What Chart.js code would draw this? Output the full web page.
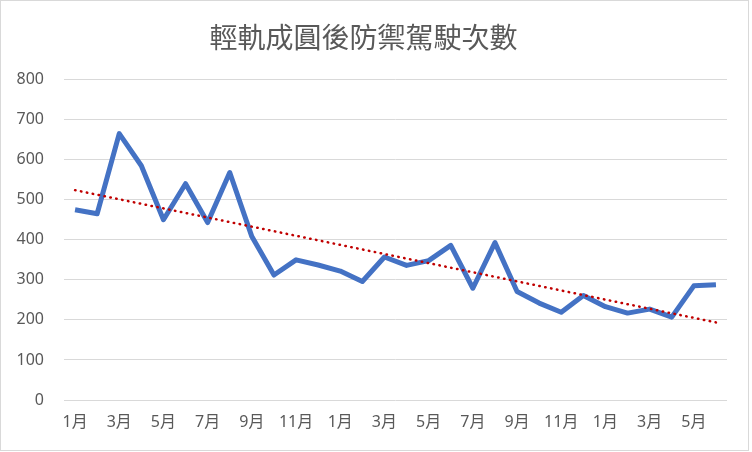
<!DOCTYPE html>
<html>
<head>
<meta charset="utf-8">
<script src="https://cdn.jsdelivr.net/npm/chart.js@4"></script>
<style>
  body { margin: 0; background: #fff; }
  #wrap { width: 752px; height: 452px; }
</style>
</head>
<body>
<div id="wrap"><canvas id="chart" width="752" height="452"></canvas></div>
<script>
// Chart data
const title = '輕軌成圓後防禦駕駛次數';
const months = [
    '1月', '2月', '3月', '4月', '5月', '6月', '7月', '8月', '9月', '10月', '11月', '12月',
    '1月', '2月', '3月', '4月', '5月', '6月', '7月', '8月', '9月', '10月', '11月', '12月',
    '1月', '2月', '3月', '4月', '5月', '6月'
];
const counts = [
    475, 465, 665, 585, 450, 540, 443, 568, 408, 312, 350, 337,
    322, 296, 357, 336, 348, 386, 279, 393, 271, 242, 219, 261,
    233, 217, 227, 207, 285, 288
];
const yTicks = [0, 100, 200, 300, 400, 500, 600, 700, 800];

// Linear trendline (least squares), like the spreadsheet one
const n = counts.length;
let sx = 0, sy = 0, sxy = 0, sxx = 0;
counts.forEach((v, i) => { sx += i; sy += v; sxy += i * v; sxx += i * i; });
const slope = (n * sxy - sx * sy) / (n * sxx - sx * sx);
const intercept = (sy - slope * sx) / n;
const trend = counts.map((v, i) => intercept + slope * i);

const grey = '#595959';
const font = "'Noto Sans', 'Noto Sans CJK TC', sans-serif";

const frame = {
    id: 'frame',
    afterDraw(chart) {
        const c = chart.ctx;
        c.save();
        c.strokeStyle = '#d9d9d9';
        c.lineWidth = 1;
        c.strokeRect(0.5, 0.5, 748, 450);
        c.restore();
    }
};

new Chart(document.getElementById('chart').getContext('2d'), {
    type: 'line',
    data: {
        labels: months,
        datasets: [{
            label: '次數',
            data: counts,
            borderColor: '#4472C4',
            borderWidth: 5,
            pointRadius: 0,
            tension: 0,
            borderJoinStyle: 'round',
            order: 2
        }, {
            label: '趨勢',
            data: trend,
            borderColor: '#C00000',
            borderWidth: 2.5,
            borderDash: [0.5, 5.5],
            borderCapStyle: 'round',
            pointRadius: 0,
            order: 1
        }]
    },
    options: {
        responsive: false,
        animation: false,
        layout: { padding: { left: 0, right: 25, top: 0, bottom: 12 } },
        plugins: {
            legend: { display: false },
            tooltip: { enabled: false },
            title: {
                display: true,
                text: title,
                color: grey,
                font: { family: "'Noto Sans CJK TC', sans-serif", size: 28, weight: 'normal' },
                padding: { top: 21, bottom: 25 }
            }
        },
        scales: {
            x: {
                offset: true,
                grid: { display: false, drawTicks: false },
                border: { display: false },
                ticks: {
                    autoSkip: false,
                    maxRotation: 0,
                    padding: 13,
                    color: grey,
                    font: { family: font, size: 16 },
                    callback: (v, i) => (i % 2 === 0 ? months[i] : '')
                },
                afterFit: s => { s.height = 40; }
            },
            y: {
                min: 0,
                max: 800,
                afterBuildTicks: s => { s.ticks = yTicks.map(v => ({ value: v })); },
                grid: { color: '#d9d9d9', lineWidth: 1, drawTicks: false },
                border: { display: false },
                ticks: {
                    padding: 20,
                    color: grey,
                    font: { family: font, size: 16 }
                },
                afterFit: s => { s.width = 64; }
            }
        }
    },
    plugins: [frame]
});
</script>
</body>
</html>
